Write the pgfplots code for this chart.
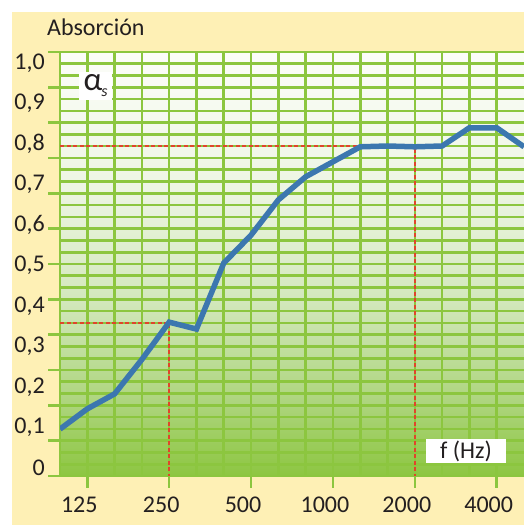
\documentclass[border=0pt]{standalone}
\usepackage{pgfplots}
\pgfplotsset{compat=1.18}
\usepackage{fontspec}
\setmainfont{Carlito}

\definecolor{cream}{HTML}{FEF0B5}
\definecolor{gridgreen}{HTML}{8CC63F}
\definecolor{curveblue}{HTML}{3C77AF}
\definecolor{refred}{HTML}{E0452B}
\definecolor{labelgray}{HTML}{231F20}
\definecolor{g0}{HTML}{8DC641}
\definecolor{g1}{HTML}{AED57F}
\definecolor{g2}{HTML}{D3E8BD}
\definecolor{g3}{HTML}{EDF5E3}
\definecolor{g4}{HTML}{FCFDF9}
\pgfdeclareverticalshading{plotbg}{100bp}{color(0bp)=(g0); color(25bp)=(g0); color(34bp)=(g1); color(46bp)=(g2); color(59bp)=(g3); color(75bp)=(g4); color(100bp)=(g4)}

\newcommand{\lblfont}{\fontsize{24bp}{28bp}\selectfont}

\begin{document}
\begin{tikzpicture}
\useasboundingbox (0,0) rectangle (524bp,525bp);
\fill[white] (0,0) rectangle (524bp,525bp);
\fill[cream] (12bp,0) rectangle (524bp,513bp);

\begin{axis}[
  at={(60bp,49bp)}, anchor=south west,
  scale only axis, width=464bp, height=424bp,
  xmode=log,
  xmin=99.21, xmax=5039.68,
  ymin=-0.0198, ymax=1.0271,
  axis background/.style={shading=plotbg},
  axis line style={draw=none},
  tick pos=left, tick align=outside,
  xtick={125,250,500,1000,2000,4000},
  xticklabels={125,250,500,1000,2000,4000},
  minor xtick={99.21,157.49,198.43,314.98,396.85,629.96,793.70,1259.92,1587.40,2519.84,3174.80},
  ytick={-0.0198,0.0674,0.1547,0.2419,0.3292,0.4164,0.5036,0.5909,0.6781,0.7654,0.8526,0.9398,1.0271},
  yticklabels={},
  minor ytick={0.0093,0.0384,0.0965,0.1256,0.1838,0.2129,0.2710,0.3001,0.3583,0.3873,0.4455,0.4746,
               0.5327,0.5618,0.6200,0.6491,0.7072,0.7363,0.7945,0.8235,0.8817,0.9108,0.9689,0.9980},
  grid=both,
  grid style={gridgreen, line width=2.6bp},
  minor grid style={gridgreen, line width=2.6bp},
  major tick style={gridgreen, line width=2.6bp},
  major tick length=12bp,
  minor tick length=0pt,
  tick label style={font=\lblfont, text=labelgray},
  xticklabel style={anchor=north, inner sep=0pt, xshift=-8bp, yshift=-9bp},
  yticklabel style={anchor=east, inner sep=0pt, xshift=-15bp},
  extra y ticks={0,0.1,0.2,0.3,0.4,0.5,0.6,0.7,0.8,0.9,1.0},
  extra y tick labels={0,{0,1},{0,2},{0,3},{0,4},{0,5},{0,6},{0,7},{0,8},{0,9},{1,0}},
  extra y tick style={grid=none, major tick length=0pt},
]

% reference lines
\addplot[refred, line width=1.6bp, dash pattern=on 4bp off 2.5bp] coordinates {
(99.21,0.795) (2000,0.795) (2000,-0.0198)
};
\addplot[refred, line width=1.6bp, dash pattern=on 4bp off 2.5bp] coordinates {
(99.21,0.358) (250,0.358) (250,-0.0198)
};

% absorption curve
\addplot[curveblue, line width=5.5bp] coordinates {
(99.21,0.096) (125,0.146) (157.49,0.183) (198.43,0.268) (250,0.360)
(314.98,0.343) (396.85,0.506) (500,0.575) (629.96,0.662) (793.70,0.719)
(1000,0.756) (1259.92,0.793) (1587.40,0.795) (2000,0.793) (2519.84,0.795)
(3174.80,0.840) (4000,0.840) (5039.68,0.793)
};

\node[fill=white, minimum width=33bp, minimum height=28bp, inner sep=0pt, text=labelgray]
  at (rel axis cs:0.0765,0.92) {\fontsize{33bp}{34bp}\selectfont α\kern-1bp\raisebox{-6bp}{\fontsize{16bp}{17bp}\selectfont\itshape s}};
\node[fill=white, minimum width=80bp, minimum height=24bp, inner sep=0pt, text=labelgray, font=\lblfont]
  at (rel axis cs:0.875,0.059) {f (Hz)};
\end{axis}

\node[anchor=base west, inner sep=0pt, text=labelgray, font=\lblfont] at (47bp,489bp) {Absorción};
\end{tikzpicture}
\end{document}
